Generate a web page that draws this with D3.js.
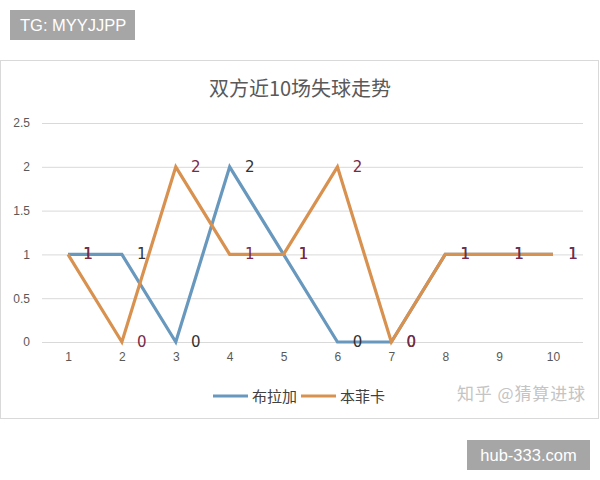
<!DOCTYPE html>
<html><head><meta charset="utf-8">
<script src="https://cdn.jsdelivr.net/npm/d3@7/dist/d3.min.js"></script>
<style>body{margin:0;background:#fff;font-family:"Noto Sans CJK SC","Noto Sans",sans-serif;}</style>
</head><body>
<svg id="c" width="600" height="480"></svg>
<script>
const matches = [1,2,3,4,5,6,7,8,9,10];
const braga = [1,1,0,2,1,0,0,1,1,1];
const benfica = [1,0,2,1,1,2,0,1,1,1];
const yTicks = [0,0.5,1,1.5,2,2.5];
const seriesNames = ["布拉加","本菲卡"];
const title = "双方近10场失球走势";

const svg = d3.select("#c");
const colors = ["#6898bd","#d8914f"];
const labelColors = ["#333333","#7a2a48"];

// badges
svg.append("rect").attr("x",10).attr("y",10).attr("width",125).attr("height",30).attr("fill","#a6a6a6");
svg.append("text").attr("x",20).attr("y",31).attr("fill","#fff").attr("font-size",16.5).attr("font-family","Liberation Sans, Arial, sans-serif").text("TG: MYYJJPP");
svg.append("rect").attr("x",467).attr("y",440).attr("width",123).attr("height",30).attr("fill","#a6a6a6");
svg.append("text").attr("x",528.5).attr("y",461).attr("text-anchor","middle").attr("fill","#fff").attr("font-size",16.5).attr("font-family","Liberation Sans, Arial, sans-serif").text("hub-333.com");

// card
svg.append("rect").attr("x",0.5).attr("y",60.5).attr("width",598).attr("height",358).attr("fill","#fff").attr("stroke","#d9d9d9");

svg.append("text").attr("x",300).attr("y",96).attr("text-anchor","middle").attr("fill","#595959").attr("font-size",20).text(title);

const x = d3.scalePoint().domain(matches).range([68,553]);
const y = d3.scaleLinear().domain([0,2.5]).range([342,123]);

const g = svg.append("g");
const yAxis = d3.axisLeft(y).tickValues(yTicks).tickSize(-541).tickPadding(12).tickFormat(d=>d);
const ya = g.append("g").attr("transform","translate(42,0)").call(yAxis);
ya.select(".domain").remove();
ya.selectAll("line").attr("stroke","#d9d9d9");
ya.selectAll("text").attr("fill","#595959").attr("font-size",12).attr("font-family","Liberation Sans, Arial, sans-serif");

const xAxis = d3.axisBottom(x).tickSize(0).tickPadding(10);
const xa = g.append("g").attr("transform","translate(0,342)").call(xAxis);
xa.select(".domain").remove();
xa.selectAll("text").attr("fill","#595959").attr("font-size",12).attr("font-family","Liberation Sans, Arial, sans-serif");

const data = [braga, benfica];
const line = d3.line().x((d,i)=>x(matches[i])).y(d=>y(d));
data.forEach((s,k)=>{
  g.append("path").datum(s).attr("d",line).attr("fill","none").attr("stroke",colors[k]).attr("stroke-width",3.2).attr("stroke-linejoin","miter");
});
data.forEach((s,k)=>{
  g.selectAll(null).data(s).join("text")
    .attr("x",(d,i)=>x(matches[i])+20).attr("y",d=>y(d)+5)
    .attr("text-anchor","middle").attr("fill",labelColors[k]).attr("font-size",15)
    .attr("font-family","DejaVu Sans, sans-serif")
    .text(d=>d);
});

// legend
const leg = [[213,252],[301,340]];
seriesNames.forEach((n,k)=>{
  svg.append("line").attr("x1",leg[k][0]).attr("x2",leg[k][0]+35).attr("y1",396).attr("y2",396).attr("stroke",colors[k]).attr("stroke-width",3.2);
  svg.append("text").attr("x",leg[k][1]).attr("y",401.5).attr("fill","#404040").attr("font-size",15).text(n);
});
svg.append("text").attr("x",457).attr("y",400).attr("fill","#c4c4c4").attr("font-size",17).attr("textLength",128).text("知乎 @猜算进球");
</script>
</body></html>
